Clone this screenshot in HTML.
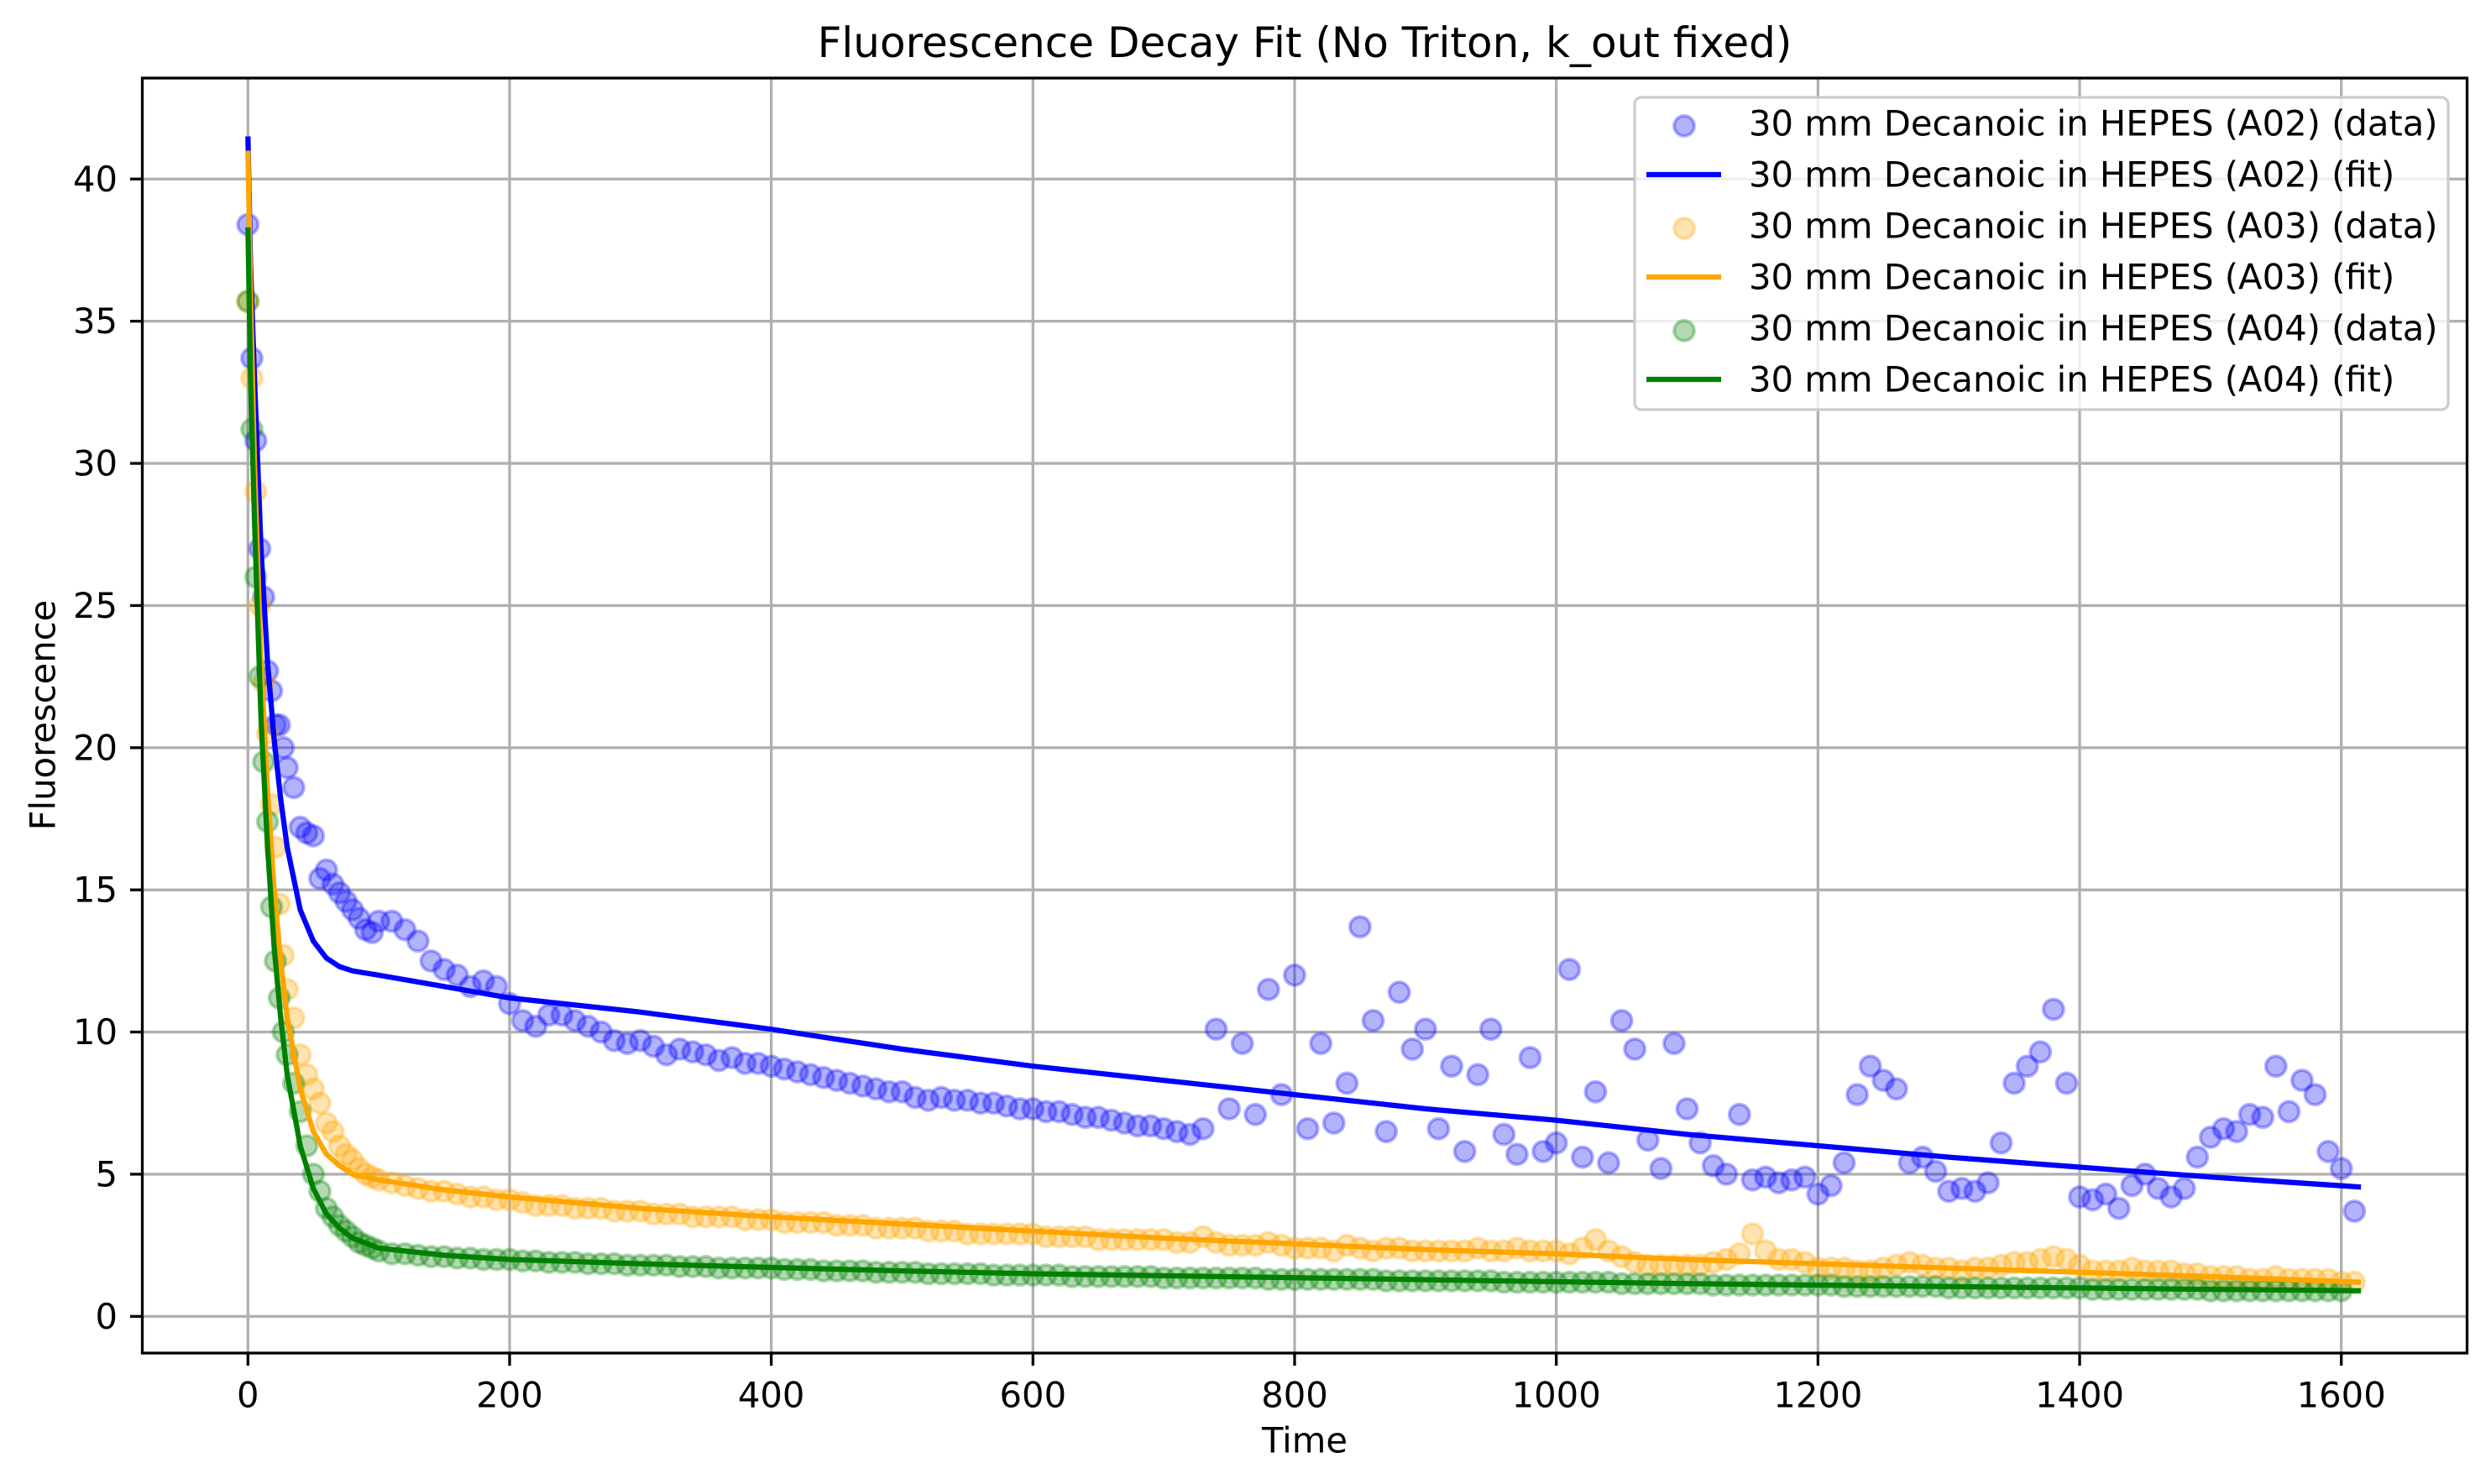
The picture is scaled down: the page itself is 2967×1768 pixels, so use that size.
<!DOCTYPE html>
<html><head><meta charset="utf-8"><style>
html,body{margin:0;padding:0;background:#fff;}
svg{display:block;font-family:"DejaVu Sans","Liberation Sans",sans-serif;}
</style></head><body>
<svg id="chart" width="2967" height="1768" viewBox="0 0 2967 1768" xmlns="http://www.w3.org/2000/svg">
<rect x="0" y="0" width="2967" height="1768" fill="#fff"/>
<text x="1554" y="51" font-size="50" text-anchor="middle" dominant-baseline="central">Fluorescence Decay Fit (No Triton, k_out fixed)</text>
<text x="1554" y="1716" font-size="41.7" text-anchor="middle" dominant-baseline="central">Time</text>
<text x="51" y="852" font-size="41.7" text-anchor="middle" dominant-baseline="central" transform="rotate(-90 51 852)">Fluorescence</text>
<g id="grid"></g>
<g id="plot"></g>
<rect x="169.5" y="93" width="2769" height="1519" fill="none" stroke="#000" stroke-width="3.3"/>
<g id="ticks"></g>
<g id="legend"></g>
</svg>
<script>
const xTicks=[0,200,400,600,800,1000,1200,1400,1600];
const yTicks=[0,5,10,15,20,25,30,35,40];
const earlyTimes=[0,3,6,9,12,15,18,21,24,27,30,35,40,45,50,55,60,65,70,75,80,85,90,95,100];
const blueEarly=[38.4,33.7,30.8,27,25.3,22.7,22,20.8,20.8,20,19.3,18.6,17.2,17,16.9,15.4,15.7,15.2,14.9,14.6,14.3,14.0,13.6,13.5,13.9];
const orangeEarly=[35.7,33,29,25,22.3,20.5,18,16.5,14.5,12.7,11.5,10.5,9.2,8.5,8,7.5,6.8,6.5,6,5.7,5.5,5.2,5.0,4.9,4.8];
const greenEarly=[35.7,31.2,26,22.5,19.5,17.4,14.4,12.5,11.2,10,9.2,8.2,7.2,6,5,4.4,3.8,3.5,3.2,3,2.8,2.6,2.5,2.4,2.3];
// later values at 110,120,...,1610
const blueLate=[13.9,13.6,13.2,12.5,12.2,12.0,11.6,11.8,11.6,11.0,10.4,10.2,10.6,10.6,10.4,10.2,10.0,9.7,9.6,9.7,9.5,9.2,9.4,9.3,9.2,9.0,9.1,8.9,8.9,8.8,8.7,8.6,8.5,8.4,8.3,8.2,8.1,8.0,7.9,7.9,7.7,7.6,7.7,7.6,7.6,7.5,7.5,7.4,7.3,7.3,7.2,7.2,7.1,7.0,7.0,6.9,6.8,6.7,6.7,6.6,6.5,6.4,6.6,10.1,7.3,9.6,7.1,11.5,7.8,12.0,6.6,9.6,6.8,8.2,13.7,10.4,6.5,11.4,9.4,10.1,6.6,8.8,5.8,8.5,10.1,6.4,5.7,9.1,5.8,6.1,12.2,5.6,7.9,5.4,10.4,9.4,6.2,5.2,9.6,7.3,6.1,5.3,5.0,7.1,4.8,4.9,4.7,4.8,4.9,4.3,4.6,5.4,7.8,8.8,8.3,8.0,5.4,5.6,5.1,4.4,4.5,4.4,4.7,6.1,8.2,8.8,9.3,10.8,8.2,4.2,4.1,4.3,3.8,4.6,5.0,4.5,4.2,4.5,5.6,6.3,6.6,6.5,7.1,7.0,8.8,7.2,8.3,7.8,5.8,5.2,3.7];
const orangeLate=[4.7,4.6,4.5,4.4,4.4,4.3,4.2,4.2,4.1,4.1,4.0,3.9,3.9,3.9,3.8,3.8,3.8,3.7,3.7,3.7,3.6,3.6,3.6,3.5,3.5,3.5,3.5,3.4,3.4,3.4,3.3,3.3,3.3,3.3,3.2,3.2,3.2,3.1,3.1,3.1,3.1,3.0,3.0,3.0,2.9,2.9,2.9,2.9,2.9,2.9,2.8,2.8,2.8,2.8,2.7,2.7,2.7,2.7,2.7,2.7,2.6,2.6,2.8,2.6,2.5,2.5,2.5,2.6,2.5,2.4,2.4,2.4,2.3,2.5,2.4,2.3,2.4,2.4,2.3,2.3,2.3,2.3,2.3,2.4,2.3,2.3,2.4,2.3,2.3,2.3,2.2,2.4,2.7,2.3,2.1,1.9,1.8,1.8,1.8,1.8,1.8,1.9,2.0,2.2,2.9,2.3,2.0,2.0,1.9,1.7,1.7,1.7,1.6,1.6,1.7,1.8,1.9,1.8,1.7,1.7,1.6,1.7,1.7,1.8,1.9,1.9,2.0,2.1,2.0,1.8,1.6,1.6,1.6,1.7,1.6,1.6,1.6,1.5,1.5,1.4,1.4,1.4,1.3,1.3,1.4,1.3,1.3,1.3,1.3,1.2,1.2,1.3];
const greenLate=[2.2,2.2,2.15,2.1,2.1,2.05,2.05,2.0,2.0,2.0,1.95,1.95,1.9,1.9,1.9,1.85,1.85,1.85,1.8,1.8,1.8,1.8,1.75,1.75,1.75,1.7,1.7,1.7,1.7,1.7,1.65,1.65,1.65,1.6,1.6,1.6,1.6,1.55,1.55,1.55,1.55,1.5,1.5,1.5,1.5,1.5,1.45,1.45,1.45,1.45,1.45,1.45,1.4,1.4,1.4,1.4,1.4,1.4,1.4,1.35,1.35,1.35,1.35,1.35,1.35,1.35,1.35,1.3,1.3,1.3,1.3,1.3,1.3,1.3,1.3,1.3,1.25,1.25,1.25,1.25,1.25,1.25,1.25,1.25,1.25,1.2,1.2,1.2,1.2,1.2,1.2,1.2,1.2,1.2,1.15,1.15,1.15,1.15,1.15,1.15,1.15,1.1,1.1,1.1,1.1,1.1,1.1,1.1,1.1,1.1,1.1,1.05,1.05,1.05,1.05,1.05,1.05,1.05,1.05,1.0,1.0,1.0,1.0,1.0,1.0,1.0,1.0,1.0,1.0,1.0,0.95,0.95,0.95,0.95,0.95,0.95,0.95,0.95,0.95,0.9,0.9,0.9,0.9,0.9,0.9,0.9,0.9,0.9,0.9,0.9];
const fitTimes=[0,2,5,10,15,20,25,30,40,50,60,70,80,100,150,200,300,400,500,600,700,800,900,1000,1100,1200,1300,1400,1500,1615];
const blueFit=[41.5,37,33,27,23,20.3,18.2,16.5,14.3,13.2,12.6,12.3,12.15,12.0,11.6,11.2,10.7,10.1,9.4,8.8,8.3,7.8,7.3,6.9,6.4,6.0,5.6,5.25,4.9,4.55];
const orangeFit=[41,36,30,23,18.5,15,12.5,10.5,8,6.5,5.7,5.3,5.0,4.8,4.45,4.2,3.8,3.5,3.25,3.0,2.75,2.55,2.35,2.2,2.0,1.85,1.7,1.55,1.4,1.2];
const greenFit=[38.3,33,28,21,16.5,13,10.5,8.5,6,4.5,3.6,3.1,2.75,2.4,2.15,2.0,1.85,1.72,1.6,1.5,1.43,1.36,1.29,1.22,1.15,1.1,1.05,1.0,0.95,0.9];

const NS="http://www.w3.org/2000/svg";
const X0=295.3, XS=(2788.7-295.3)/1600, Y0=1568.3, YS=(1568.3-213.3)/40;
function xs(v){return X0+v*XS;}
function ys(v){return Y0-v*YS;}
function mk(tag,attrs,parent){const e=document.createElementNS(NS,tag);for(const k in attrs)e.setAttribute(k,attrs[k]);parent.appendChild(e);return e;}
const grid=document.getElementById('grid'),plot=document.getElementById('plot'),ticks=document.getElementById('ticks'),legend=document.getElementById('legend');
xTicks.forEach(t=>{
  const g=mk('line',{x1:xs(t),x2:xs(t),y1:93,y2:1612,stroke:'#b0b0b0','stroke-width':3.3},grid);
  
  
  const tk=mk('line',{x1:xs(t),x2:xs(t),y1:1612,y2:1627,stroke:'#000','stroke-width':3.3},ticks);
  
  
  const tx=mk('text',{x:xs(t),y:1662,'font-size':41.7,'text-anchor':'middle','dominant-baseline':'central'},ticks);
  tx.textContent=t;
  
  
});
yTicks.forEach(t=>{
  const g=mk('line',{x1:169.5,x2:2938.7,y1:ys(t),y2:ys(t),stroke:'#b0b0b0','stroke-width':3.3},grid);
  
  
  const tk=mk('line',{x1:155,x2:169.5,y1:ys(t),y2:ys(t),stroke:'#000','stroke-width':3.3},ticks);
  
  
  const tx=mk('text',{x:140,y:ys(t),'font-size':41.7,'text-anchor':'end','dominant-baseline':'central'},ticks);
  tx.textContent=t;
  
  
});
const lateTimes=[];for(let i=0;i<blueLate.length;i++)lateTimes.push(110+i*10);
const times=earlyTimes.concat(lateTimes);
const series=[
 {name:'a02',color:'#0000ff',data:blueEarly.concat(blueLate),fit:blueFit},
 {name:'a03',color:'#ffa500',data:orangeEarly.concat(orangeLate),fit:orangeFit},
 {name:'a04',color:'#008000',data:greenEarly.concat(greenLate),fit:greenFit}
];
series.forEach(s=>{
  const g=mk('g',{},plot);
  
  
  s.data.forEach((v,i)=>{
    if(times[i]===undefined)return;
    const c=mk('circle',{cx:xs(times[i]),cy:ys(v),r:12,fill:s.color,'fill-opacity':0.3,stroke:s.color,'stroke-opacity':0.3,'stroke-width':4},g);
    
    
  });
});
series.forEach(s=>{
  const d=s.fit.map((v,i)=>(i?'L':'M')+xs(fitTimes[i]).toFixed(1)+','+ys(v).toFixed(1)).join(' ');
  const p=mk('path',{d:d,fill:'none',stroke:s.color,'stroke-width':6.25,'stroke-linejoin':'round'},plot);
  
  
});
const lb=mk('rect',{x:1947,y:116,width:969,height:372,rx:8,fill:'#fff','fill-opacity':0.8,stroke:'#cccccc','stroke-width':3.3},legend);


const labels=['(A02) (data)','(A02) (fit)','(A03) (data)','(A03) (fit)','(A04) (data)','(A04) (fit)'];
const cols=['#0000ff','#0000ff','#ffa500','#ffa500','#008000','#008000'];
labels.forEach((l,i)=>{
  const cy=147+i*61;
  let m;
  if(i%2===0){m=mk('circle',{cx:2006,cy:cy+3,r:12,fill:cols[i],'fill-opacity':0.3,stroke:cols[i],'stroke-opacity':0.3,'stroke-width':4},legend);}
  else{m=mk('line',{x1:1961,x2:2050,y1:cy,y2:cy,stroke:cols[i],'stroke-width':6.25},legend);}
  
  
  const t=mk('text',{x:2083,y:cy,'font-size':41.7,'dominant-baseline':'central'},legend);
  t.textContent='30 mm Decanoic in HEPES '+l;
  
  
});
</script>
</body></html>
